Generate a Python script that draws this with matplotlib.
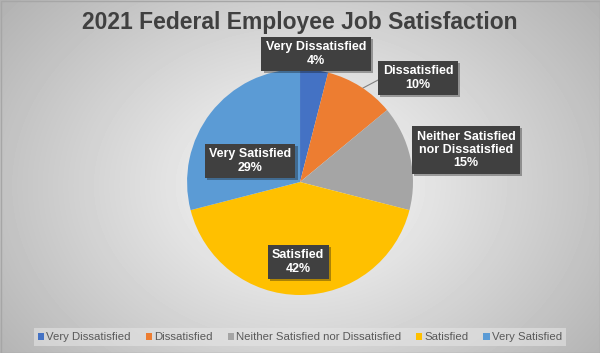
import numpy as np
import matplotlib
matplotlib.use('Agg')
import matplotlib.pyplot as plt
from matplotlib.patches import Rectangle
import matplotlib.patheffects as pe

plt.rcParams['font.family'] = ['Liberation Sans', 'DejaVu Sans']

# data
categories = ['Very Dissatisfied', 'Dissatisfied', 'Neither Satisfied nor Dissatisfied',
              'Satisfied', 'Very Satisfied']
box_labels = ['Very Dissatisfied', 'Dissatisfied', 'Neither Satisfied\nnor Dissatisfied',
              'Satisfied', 'Very Satisfied']
shares = [4, 10, 15, 42, 29]
colors = ['#4472C4', '#ED7D31', '#A5A5A5', '#FFC000', '#5B9BD5']

fig = plt.figure(figsize=(6, 3.53), dpi=100)

# radial gradient background
bg = fig.add_axes([0, 0, 1, 1], zorder=0)
yy, xx = np.mgrid[0:353, 0:600]
r = np.sqrt(((xx - 300) / 340.0) ** 2 + ((yy - 185) / 260.0) ** 2)
shade = np.clip(0.99 - 0.26 * r, 0, 1)
bg.imshow(shade, cmap='gray', vmin=0, vmax=1, aspect='auto', extent=[0, 600, 353, 0])
bg.add_patch(Rectangle((0.5, 0.5), 599, 352, fill=False, edgecolor='#a6a6a6', lw=1))
bg.set_xlim(0, 600)
bg.set_ylim(353, 0)
bg.axis('off')

# pie
ax = fig.add_axes([0.3117, 0.1643, 0.3767, 0.640], zorder=1)
wedges, _ = ax.pie(shares, colors=colors, startangle=90, counterclock=False,
                   wedgeprops=dict(linewidth=0))
ax.set_xlim(-1, 1)
ax.set_ylim(-1, 1)
ax.set_aspect('equal')
ax.axis('off')

fig.text(0.5, 0.937, '2021 Federal Employee Job Satisfaction', ha='center', va='center',
         fontsize=16.5, fontweight='bold', color='#404040', zorder=3)

# data label placement (figure pixels, x from left, y from top)
label_pos = [(316, 54), (418, 78), (466, 150), (298, 262), (250, 161)]
for lab, val, (px, py) in zip(box_labels, shares, label_pos):
    t = fig.text(px / 600, 1 - py / 353, f'{lab}\n{val}%', ha='center', va='center',
                 fontsize=9, fontweight='bold', color='white', linespacing=1.15, zorder=4,
                 bbox=dict(boxstyle='square,pad=0.35', facecolor='#404040', edgecolor='none'))
    t.get_bbox_patch().set_path_effects([pe.SimplePatchShadow(offset=(1.5, -1.5), alpha=0.35),
                                         pe.Normal()])

# leader line for Dissatisfied
bg.plot([363, 380], [88, 79], color='#808080', lw=0.8, zorder=2)

fig.legend(wedges, categories, loc='center', bbox_to_anchor=(0.5, 0.045), ncol=5,
           fontsize=8.2, frameon=True, facecolor='#e4e4e4', edgecolor='none', framealpha=0.6,
           handlelength=0.55, handleheight=0.55, handletextpad=0.2, columnspacing=1.3,
           borderpad=0.35, fancybox=False, labelcolor='#595959')

fig.savefig('out.png', dpi=100)
